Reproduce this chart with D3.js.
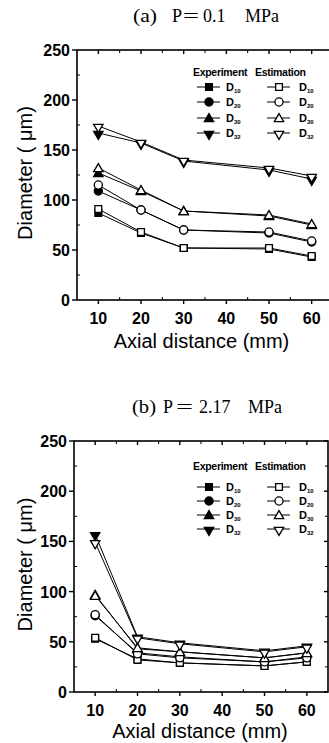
<!DOCTYPE html>
<html><head><meta charset="utf-8">
<script src="https://cdn.jsdelivr.net/npm/d3@7"></script>
<style>body{margin:0;background:#fff}svg{display:block}</style>
</head><body>
<script>
// ---------- data ----------
const distances = [10, 20, 30, 50, 60];
const seriesKeys = ["D10", "D20", "D30", "D32"];
const subscripts = ["10", "20", "30", "32"];
const yTicks = [0, 50, 100, 150, 200, 250];
const xTicks = [10, 20, 30, 40, 50, 60];
const legendHeaders = ["Experiment", "Estimation"];
const titleA = ["(a)", "P", "=", "0.1", "MPa"];
const titleB = ["(b)", "P", "=", "2.17", "MPa"];
const xLabel = "Axial distance (mm)";
const yLabel = "Diameter ( \u03bcm)";

// (a) P = 0.1 MPa
const expA_D10 = [87, 67, 52, 51, 43];
const estA_D10 = [91, 68, 52, 52, 44];
const expA_D20 = [109, 90, 70, 67, 58];
const estA_D20 = [115, 90, 70, 68, 59];
const expA_D30 = [127, 109, 89, 84, 75];
const estA_D30 = [132, 110, 89, 85, 76];
const expA_D32 = [167, 157, 139, 130, 121];
const estA_D32 = [174, 158, 140, 132, 124];

// (b) P = 2.17 MPa
const expB_D10 = [53, 33, 29, 26, 30];
const estB_D10 = [54, 32, 29, 26, 30];
const expB_D20 = [76, 39, 35, 30, 35];
const estB_D20 = [77, 38, 34, 30, 34];
const expB_D30 = [97, 43, 40, 34, 39];
const estB_D30 = [96, 44, 40, 34, 39];
const expB_D32 = [157, 55, 49, 41, 46];
const estB_D32 = [149, 54, 48, 40, 45];

// ---------- layout ----------
const W = 329, H = 743;
const svg = d3.select("body").append("svg").attr("width", W).attr("height", H);
const SANS = "'Liberation Sans', Arial, sans-serif";
const SERIF = "'Liberation Serif', 'Times New Roman', serif";

const panels = [
  { title: titleA, titleY: 22, titleX: [133, 172, 183, 203, 245], titleLen: [24, null, 16, null, null],
    top: 50, bottom: 300, left: 77, right: 333,
    exp: [expA_D10, expA_D20, expA_D30, expA_D32],
    est: [estA_D10, estA_D20, estA_D30, estA_D32],
    legHeaderY: 72, legRows: [87, 102, 118, 133],
    xLabY: 348 },
  { title: titleB, titleY: 413, titleX: [132, 163, 176, 199, 248], titleLen: [24, null, 17, null, null],
    top: 441, bottom: 692, left: 74, right: 328,
    exp: [expB_D10, expB_D20, expB_D30, expB_D32],
    est: [estB_D10, estB_D20, estB_D30, estB_D32],
    legHeaderY: 466, legRows: [487, 501, 515, 529],
    xLabY: 738 }
];

const symbols = [d3.symbolSquare, d3.symbolCircle, d3.symbolTriangle, d3.symbolTriangle];
const symSize = [46, 52, 38, 38];
const symRot = [0, 0, 0, 180];

function marker(g, i, x, y, filled) {
  g.append("path")
    .attr("d", d3.symbol().type(symbols[i]).size(symSize[i])())
    .attr("transform", `translate(${x},${y}) rotate(${symRot[i]})` + (i === 3 ? " translate(0,-1)" : (i === 2 ? " translate(0,1)" : "")))
    .attr("fill", filled ? "#000" : "#fff")
    .attr("stroke", "#000")
    .attr("stroke-width", 1.3);
}

panels.forEach(p => {
  const g = svg.append("g");
  const x = d3.scaleLinear().domain([5, 65]).range([p.left, p.right]);
  const y = d3.scaleLinear().domain([0, 250]).range([p.bottom, p.top]);

  // title
  p.title.forEach((t, k) => {
    const tt = g.append("text").attr("x", p.titleX[k]).attr("y", p.titleY)
      .attr("font-family", SERIF).attr("font-size", 18)
      .text(t);
    if (p.titleLen[k]) tt.attr("textLength", p.titleLen[k]).attr("lengthAdjust", "spacingAndGlyphs");
  });

  // frame
  g.append("rect").attr("x", p.left).attr("y", p.top)
    .attr("width", p.right - p.left).attr("height", p.bottom - p.top)
    .attr("fill", "none").attr("stroke", "#000").attr("stroke-width", 1.6);

  // y ticks
  yTicks.forEach(v => {
    g.append("line").attr("x1", p.left - 5).attr("x2", p.left).attr("y1", y(v)).attr("y2", y(v))
      .attr("stroke", "#000").attr("stroke-width", 1.4);
    g.append("line").attr("x1", p.right - 4).attr("x2", p.right).attr("y1", y(v)).attr("y2", y(v))
      .attr("stroke", "#000").attr("stroke-width", 1.4);
    g.append("text").attr("x", p.left - 7).attr("y", y(v) + 6)
      .attr("text-anchor", "end").attr("font-family", SANS).attr("font-weight", "bold")
      .attr("font-size", 16).text(v);
  });
  d3.range(25, 250, 50).forEach(v => {
    g.append("line").attr("x1", p.left).attr("x2", p.left + 3).attr("y1", y(v)).attr("y2", y(v))
      .attr("stroke", "#000").attr("stroke-width", 1);
    g.append("line").attr("x1", p.right - 3).attr("x2", p.right).attr("y1", y(v)).attr("y2", y(v))
      .attr("stroke", "#000").attr("stroke-width", 1);
  });
  // x ticks
  xTicks.forEach(v => {
    g.append("line").attr("x1", x(v)).attr("x2", x(v)).attr("y1", p.bottom).attr("y2", p.bottom + 4)
      .attr("stroke", "#000").attr("stroke-width", 1.4);
    g.append("line").attr("x1", x(v)).attr("x2", x(v)).attr("y1", p.top).attr("y2", p.top + 4)
      .attr("stroke", "#000").attr("stroke-width", 1.4);
    g.append("text").attr("x", x(v)).attr("y", p.bottom + 24)
      .attr("text-anchor", "middle").attr("font-family", SANS).attr("font-weight", "bold")
      .attr("font-size", 16).text(v);
  });
  d3.range(15, 65, 10).forEach(v => {
    g.append("line").attr("x1", x(v)).attr("x2", x(v)).attr("y1", p.bottom - 3).attr("y2", p.bottom)
      .attr("stroke", "#000").attr("stroke-width", 1);
    g.append("line").attr("x1", x(v)).attr("x2", x(v)).attr("y1", p.top).attr("y2", p.top + 3)
      .attr("stroke", "#000").attr("stroke-width", 1);
  });

  // axis labels
  g.append("text").attr("x", (p.left + 328) / 2 - 1).attr("y", p.xLabY)
    .attr("text-anchor", "middle").attr("font-family", SANS).attr("font-size", 20)
    .text(xLabel);
  g.append("text").attr("transform", `translate(32,${(p.top + p.bottom) / 2 - 2}) rotate(-90)`)
    .attr("text-anchor", "middle").attr("font-family", SANS).attr("font-size", 20)
    .text(yLabel);

  // data lines
  const line = d3.line().x((d, i) => x(distances[i])).y(d => y(d));
  [p.exp, p.est].forEach(set => {
    set.forEach(vals => {
      g.append("path").attr("d", line(vals)).attr("fill", "none")
        .attr("stroke", "#000").attr("stroke-width", 1);
    });
  });
  // markers: experiment filled, estimation open
  p.exp.forEach((vals, i) => vals.forEach((v, j) => marker(g, i, x(distances[j]), y(v), true)));
  p.est.forEach((vals, i) => vals.forEach((v, j) => marker(g, i, x(distances[j]), y(v), false)));

  // legend
  const cols = [{ hx: 193, l0: 197, l1: 220, m: 209, dx: 226 },
                { hx: 255, l0: 267, l1: 290, m: 279, dx: 299 }];
  cols.forEach((c, ci) => {
    g.append("text").attr("x", c.hx).attr("y", p.legHeaderY + 4)
      .attr("font-family", SANS).attr("font-weight", "bold").attr("font-size", 10.5)
      .attr("letter-spacing", -0.3)
      .text(legendHeaders[ci]);
    seriesKeys.forEach((k, i) => {
      const ry = p.legRows[i];
      g.append("line").attr("x1", c.l0).attr("x2", c.l1).attr("y1", ry).attr("y2", ry)
        .attr("stroke", "#000").attr("stroke-width", 1);
      marker(g, i, c.m, ry, ci === 0);
      const t = g.append("text").attr("x", c.dx).attr("y", ry + 4)
        .attr("font-family", SANS).attr("font-weight", "bold").attr("font-size", 11);
      t.append("tspan").text("D");
      t.append("tspan").attr("font-size", 6).attr("dy", 2).text(subscripts[i]);
    });
  });
});
</script>
</body></html>
